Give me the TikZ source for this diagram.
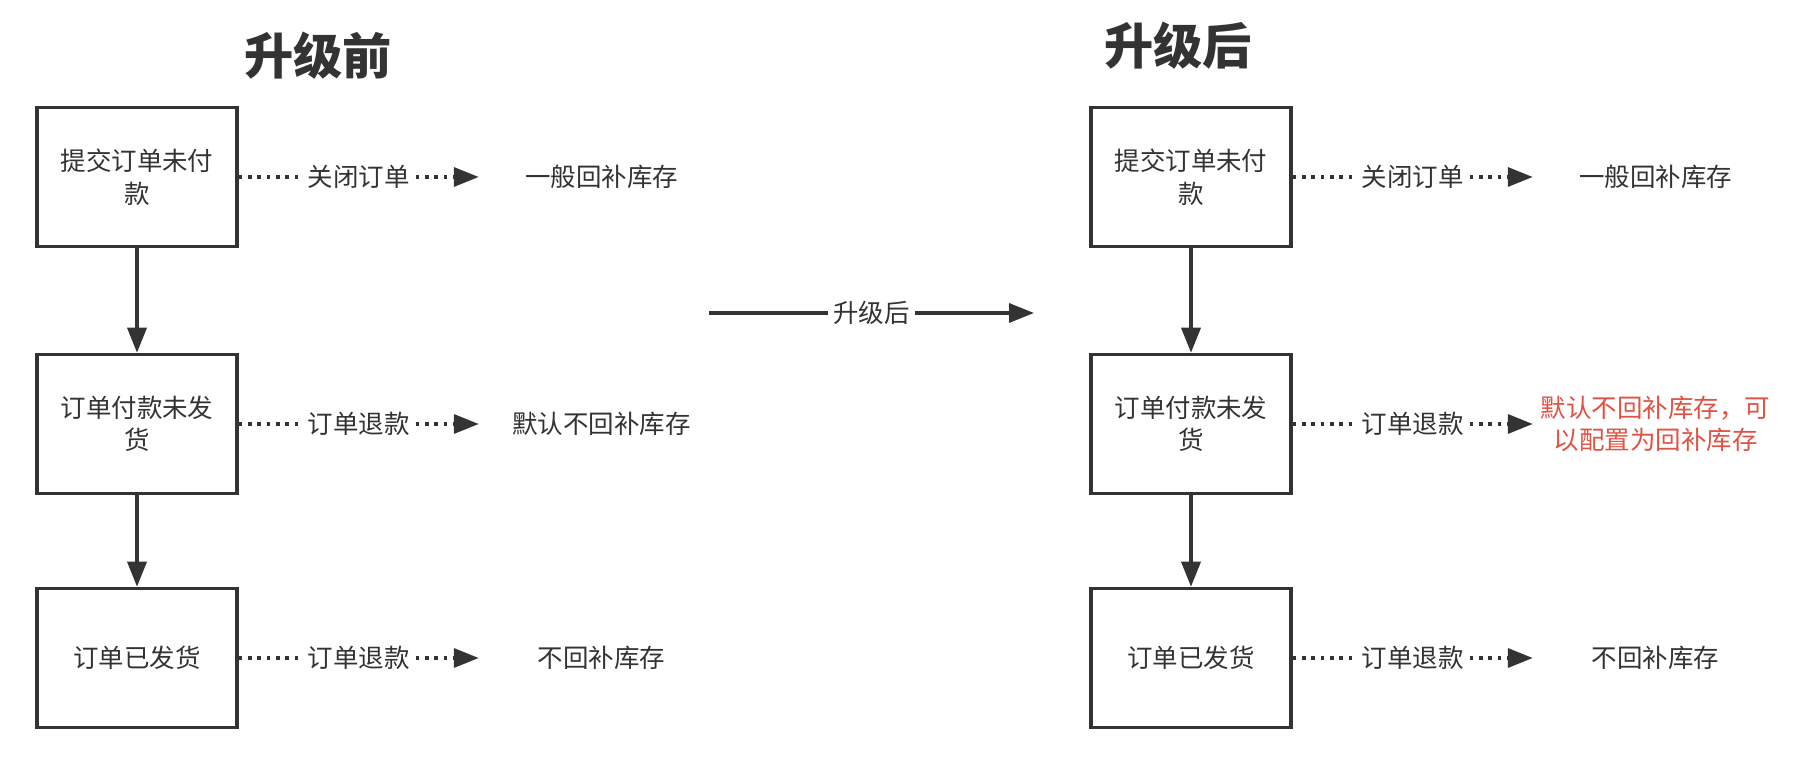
\documentclass[tikz,border=0pt]{standalone}
\usepackage{fontspec}
\setmainfont{Noto Sans CJK SC}
\usepackage{xcolor}
\usepackage{tikz}
\usetikzlibrary{positioning, arrows.meta}

\definecolor{ink}{HTML}{333333}
\definecolor{warn}{HTML}{E05244}

\begin{document}
\begin{tikzpicture}[
  font=\fontsize{14.5pt}{18.5pt}\selectfont, color=ink,
  state/.style={draw=ink, line width=2pt, minimum width=4cm, minimum height=2.78cm, align=center},
  result/.style={minimum width=4.9cm, align=center},
  heading/.style={font=\fontsize{28pt}{34pt}\selectfont\bfseries},
  flow/.style={draw=ink, line width=2pt, -{Triangle[length=0.5cm, width=0.38cm]}},
  dots/.style={draw=ink, line width=2pt, dash pattern=on 2pt off 3.3pt, -{Triangle[length=0.5cm, width=0.38cm]}},
  lbl/.style={fill=white, inner sep=3pt}
]
\useasboundingbox (0,0) rectangle (36.32,15.56);

% before
\node[heading] (pretitle) at (6.36,14.44) {升级前};
\node[state] (pre1) at (2.74,12.02) {提交订单未付\\款};
\node[state] (pre2) at (2.74,7.08) {订单付款未发\\货};
\node[state] (pre3) at (2.74,2.40) {订单已发货};
\node[result, right=4.8cm of pre1] (preout1) {一般回补库存};
\node[result, right=4.8cm of pre2] (preout2) {默认不回补库存};
\node[result, right=4.8cm of pre3] (preout3) {不回补库存};
\draw[dots] (pre1) -- node[lbl] {关闭订单} (preout1);
\draw[dots] (pre2) -- node[lbl] {订单退款} (preout2);
\draw[dots] (pre3) -- node[lbl] {订单退款} (preout3);
\draw[flow] (pre1) -- (pre2);
\draw[flow] (pre2) -- (pre3);

% middle
\coordinate (mida) at (14.18,9.3);
\coordinate (midb) at (20.68,9.3);
\draw[flow] (mida) -- node[lbl] {升级后} (midb);

% after
\node[heading] (posttitle) at (23.56,14.64) {升级后};
\node[state] (post1) at (23.82,12.02) {提交订单未付\\款};
\node[state] (post2) at (23.82,7.08) {订单付款未发\\货};
\node[state] (post3) at (23.82,2.40) {订单已发货};
\node[result, right=4.8cm of post1] (postout1) {一般回补库存};
\node[result, text=warn, right=4.8cm of post2] (postout2) {默认不回补库存，可\\以配置为回补库存};
\node[result, right=4.8cm of post3] (postout3) {不回补库存};
\draw[dots] (post1) -- node[lbl] {关闭订单} (postout1);
\draw[dots] (post2) -- node[lbl] {订单退款} (postout2);
\draw[dots] (post3) -- node[lbl] {订单退款} (postout3);
\draw[flow] (post1) -- (post2);
\draw[flow] (post2) -- (post3);
\end{tikzpicture}
\end{document}
